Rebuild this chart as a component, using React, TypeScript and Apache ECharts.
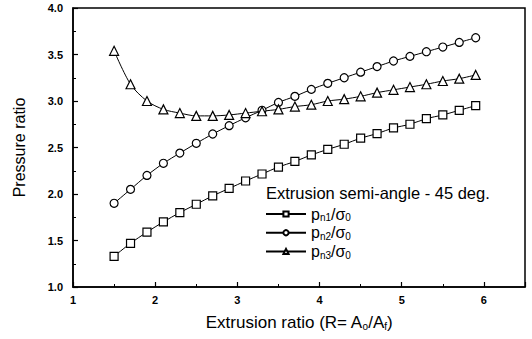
import React, { useEffect, useRef } from "react";
import * as echarts from "echarts";

const extrusionRatio = [1.5, 1.7, 1.9, 2.1, 2.3, 2.5, 2.7, 2.9, 3.1, 3.3, 3.5, 3.7, 3.9, 4.1, 4.3, 4.5, 4.7, 4.9, 5.1, 5.3, 5.5, 5.7, 5.9];
const pn1 = [1.33, 1.47, 1.59, 1.70, 1.80, 1.89, 1.98, 2.06, 2.14, 2.215, 2.29, 2.35, 2.42, 2.48, 2.535, 2.60, 2.65, 2.71, 2.75, 2.81, 2.85, 2.90, 2.95];
const pn2 = [1.90, 2.05, 2.20, 2.33, 2.44, 2.545, 2.645, 2.735, 2.82, 2.90, 2.985, 3.05, 3.125, 3.19, 3.25, 3.31, 3.37, 3.43, 3.48, 3.53, 3.58, 3.63, 3.68];
const pn3 = [3.54, 3.18, 3.00, 2.91, 2.87, 2.84, 2.84, 2.85, 2.87, 2.89, 2.91, 2.94, 2.96, 3.00, 3.02, 3.05, 3.09, 3.12, 3.15, 3.18, 3.215, 3.24, 3.28];

const seriesNames = ["pn1", "pn2", "pn3"];
const seriesLabels: Record<string, string> = {
  pn1: "{p|p}{s|n1}{p|/σ}{s|0}",
  pn2: "{p|p}{s|n2}{p|/σ}{s|0}",
  pn3: "{p|p}{s|n3}{p|/σ}{s|0}",
};
const seriesSymbols = ["rect", "circle", "triangle"];
const seriesData = [pn1, pn2, pn3];

const FONT = "'Liberation Sans', Arial, sans-serif";

export default function App() {
  const ref = useRef<HTMLDivElement>(null);
  useEffect(() => {
    if (!ref.current) return;
    const chart = echarts.init(ref.current, null, { renderer: "svg" });
    chart.setOption({
      animation: false,
      backgroundColor: "#fff",
      grid: {
        left: 73,
        right: 7,
        top: 8,
        bottom: 52,
        show: true,
        borderColor: "#000",
        borderWidth: 1.5,
      },
      title: {
        text: "Extrusion semi-angle - 45 deg.",
        left: 266,
        top: 184,
        padding: 0,
        textStyle: { fontFamily: FONT, fontSize: 16.5, fontWeight: "normal", color: "#000" },
      },
      legend: {
        orient: "vertical",
        left: 265,
        top: 206,
        padding: 0,
        itemWidth: 40,
        itemHeight: 6.5,
        itemGap: 2,
        data: seriesNames,
        formatter: (name: string) => seriesLabels[name],
        textStyle: {
          fontFamily: FONT,
          color: "#000",
          rich: {
            p: { fontFamily: FONT, fontSize: 16, lineHeight: 17.5, color: "#000" },
            s: { fontFamily: FONT, fontSize: 10, lineHeight: 10, verticalAlign: "bottom", color: "#000" },
          },
        },
      },
      xAxis: {
        type: "value",
        min: 1,
        max: 6.5,
        interval: 1,
        name: "Extrusion ratio (R= A{s|o}/A{s|f})",
        nameLocation: "middle",
        nameGap: 27,
        nameTextStyle: {
          fontFamily: FONT,
          fontSize: 17,
          color: "#000",
          rich: {
            s: { fontFamily: FONT, fontSize: 10, lineHeight: 10, verticalAlign: "bottom", color: "#000" },
          },
        },
        axisLine: { show: true, lineStyle: { color: "#000", width: 1.5 } },
        axisTick: { show: true, inside: true, length: 5, lineStyle: { color: "#000", width: 1.2 } },
        minorTick: { show: true, splitNumber: 2, length: 3, lineStyle: { color: "#000", width: 1 } },
        splitLine: { show: false },
        axisLabel: {
          fontFamily: FONT,
          fontSize: 11,
          fontWeight: "bold",
          color: "#000",
          margin: 7,
          formatter: (v: number) => (Number.isInteger(v) ? String(v) : ""),
        },
      },
      yAxis: {
        type: "value",
        min: 1,
        max: 4,
        interval: 0.5,
        name: "Pressure ratio",
        nameLocation: "middle",
        nameGap: 46,
        nameTextStyle: { fontFamily: FONT, fontSize: 16, color: "#000" },
        axisLine: { show: true, lineStyle: { color: "#000", width: 1.5 } },
        axisTick: { show: true, inside: true, length: 5, lineStyle: { color: "#000", width: 1.2 } },
        minorTick: { show: true, splitNumber: 2, length: 3, lineStyle: { color: "#000", width: 1 } },
        splitLine: { show: false },
        axisLabel: {
          fontFamily: FONT,
          fontSize: 11,
          fontWeight: "bold",
          color: "#000",
          margin: 10,
          formatter: (v: number) => v.toFixed(1),
        },
      },
      series: seriesNames.map((name, i) => ({
        name,
        type: "line",
        data: extrusionRatio.map((x, j) => [x, seriesData[i][j]]),
        smooth: 0.3,
        symbol: seriesSymbols[i],
        symbolSize: i === 2 ? 9 : 8,
        itemStyle: { color: "#fff", borderColor: "#000", borderWidth: 1.2 },
        lineStyle: { color: "#000", width: 1 },
      })),
    });
    return () => chart.dispose();
  }, []);
  return <div ref={ref} style={{ width: 532, height: 339, position: "absolute", left: 0, top: 0 }} />;
}
